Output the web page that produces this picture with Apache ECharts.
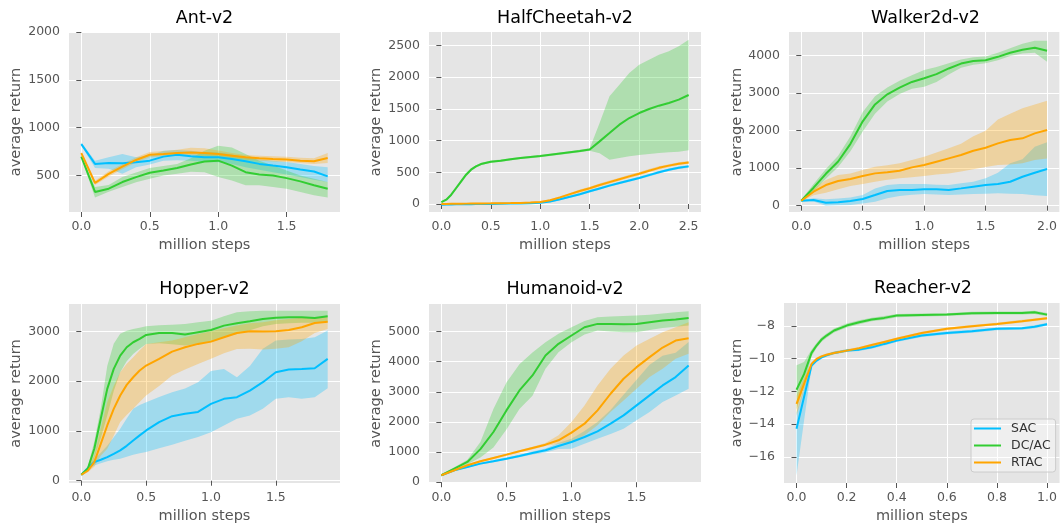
<!DOCTYPE html>
<html>
<head>
<meta charset="UTF-8">
<title>average return</title>
<style>html,body{margin:0;background:#fff;}#charts{width:1060px;height:525px;}</style>
</head>
<body>
<div id="charts"></div>
<script src="https://cdn.jsdelivr.net/npm/echarts/dist/echarts.min.js"></script>
<script>
var FONT = 'DejaVu Sans';
var SAC_C = '#00BFFF', DCAC_C = '#32CD32', RTAC_C = '#FFA500';

// Ant-v2
var antX = [0,0.1,0.2,0.3,0.4,0.5,0.6,0.7,0.8,0.9,1.0,1.1,1.2,1.3,1.4,1.5,1.6,1.7,1.8];
var antSac = [828,621,631,628,638,655,697,717,700,690,690,672,648,621,603,586,562,541,490];
var antSacLo = [812,579,569,517,586,614,655,660,655,640,638,620,586,560,534,510,483,455,431];
var antSacHi = [844,655,690,724,690,707,759,765,759,740,741,720,690,670,655,640,621,600,586];
var antDcac = [697,328,362,431,483,528,552,579,614,645,655,603,534,510,500,472,438,397,362];
var antDcacLo = [687,269,330,379,430,466,500,517,540,534,483,448,397,397,379,362,328,293,269];
var antDcacHi = [707,379,400,483,530,579,600,621,680,759,810,793,724,655,603,552,500,466,431];
var antRtac = [734,421,517,593,662,717,724,734,741,734,724,707,690,679,672,666,655,648,683];
var antRtacLo = [720,400,490,565,635,690,700,705,710,705,695,680,665,655,645,640,630,620,630];
var antRtacHi = [750,445,545,620,690,745,755,770,790,785,760,735,715,705,700,695,685,680,735];

// HalfCheetah-v2
var hcX = [0,0.05,0.1,0.15,0.2,0.25,0.3,0.35,0.4,0.5,0.6,0.7,0.8,0.9,1.0,1.1,1.2,1.3,1.4,1.5,1.6,1.7,1.8,1.9,2.0,2.1,2.2,2.3,2.4,2.5];
var hcSac = [-10,-8,-6,-5,-4,-3,-2,-1,0,2,4,6,8,12,20,40,75,115,155,200,245,290,330,370,410,455,500,540,570,593];
var hcSacLo = [-22,-19,-16,-14,-12,-11,-10,-9,-8,-6,-4,-2,0,3,10,28,60,98,137,180,225,270,310,350,390,435,480,520,550,573];
var hcSacHi = [2,3,4,4,4,5,6,7,8,10,12,14,16,21,30,52,90,132,173,220,265,310,350,390,430,475,520,560,590,613];
var hcDcac = [30,68,147,252,357,462,541,593,630,667,683,704,725,740,755,775,795,815,835,860,987,1118,1250,1355,1434,1497,1550,1592,1645,1718];
var hcDcacLo = [15,50,125,225,330,435,520,575,612,650,666,687,708,723,738,757,777,797,815,840,800,699,725,751,772,788,804,814,825,846];
var hcDcacHi = [45,86,170,280,385,490,562,611,648,684,700,721,742,757,772,793,813,833,855,880,1276,1697,1881,2064,2196,2275,2353,2406,2485,2590];
var hcRtac = [0,2,3,4,5,6,7,8,9,10,12,14,17,22,30,60,105,155,205,248,300,345,390,435,478,525,570,605,635,656];
var hcRtacLo = [-10,-8,-7,-6,-5,-4,-3,-2,-1,0,2,4,7,12,18,45,88,135,183,225,276,320,365,410,453,500,545,582,613,636];
var hcRtacHi = [10,12,13,14,15,16,17,18,19,20,22,24,27,32,42,75,122,175,227,271,324,370,415,460,503,550,595,628,657,676];

// Walker2d-v2
var wkX = [0,0.1,0.2,0.3,0.4,0.5,0.6,0.7,0.8,0.9,1.0,1.1,1.2,1.3,1.4,1.5,1.6,1.7,1.8,1.9,2.0];
var wkSac = [133,151,80,89,124,178,284,391,418,418,436,436,418,462,507,551,578,640,773,880,978];
var wkSacLo = [110,110,0,10,18,60,107,200,258,290,311,300,284,300,311,320,329,320,311,280,258];
var wkSacHi = [160,200,169,190,222,284,462,551,578,578,578,560,551,600,640,729,880,1129,1236,1573,1689];
var wkDcac = [133,480,850,1180,1650,2250,2700,2970,3150,3300,3400,3510,3660,3790,3860,3880,3970,4080,4160,4210,4130];
var wkDcacLo = [110,380,720,1030,1450,1980,2450,2780,2980,3120,3170,3300,3500,3680,3760,3800,3880,3990,4060,4080,3840];
var wkDcacHi = [160,580,980,1330,1850,2500,2920,3150,3330,3480,3620,3700,3800,3900,3960,3980,4080,4200,4320,4400,4400];
var wkRtac = [133,373,551,658,711,791,862,889,933,1022,1084,1173,1262,1351,1467,1547,1662,1751,1796,1929,2018];
var wkRtacLo = [110,280,347,440,524,580,640,690,729,760,791,830,862,910,969,1030,1084,1100,1129,1218,1262];
var wkRtacHi = [160,450,684,818,862,950,1040,1080,1129,1220,1307,1420,1529,1650,1850,2000,2300,2450,2600,2700,2800];

// Hopper-v2
var hpX = [0,0.05,0.1,0.15,0.2,0.25,0.3,0.35,0.4,0.45,0.5,0.6,0.7,0.8,0.9,1.0,1.1,1.2,1.3,1.4,1.5,1.6,1.7,1.8,1.9];
var hpSac = [120,250,374,420,474,540,608,700,808,910,1009,1176,1296,1343,1380,1543,1643,1677,1810,1977,2178,2231,2244,2258,2445];
var hpSacLo = [100,230,307,350,390,420,441,480,521,550,574,650,721,800,875,975,1109,1242,1309,1443,1643,1677,1643,1677,1857];
var hpSacHi = [140,270,441,560,700,870,1042,1250,1443,1520,1576,1680,1777,1850,1977,2200,2244,2077,2300,2650,2812,2832,2846,2879,3013];
var hpDcac = [120,240,641,1242,1844,2244,2512,2679,2779,2846,2926,2966,2966,2933,2980,3026,3113,3160,3200,3247,3273,3280,3280,3267,3300];
var hpDcacLo = [100,200,450,850,1309,1800,2178,2400,2545,2650,2745,2760,2740,2712,2750,2779,2880,2946,3020,3100,3146,3160,3170,3170,3180];
var hpDcacHi = [140,290,780,1450,2300,2750,2950,3010,3046,3070,3100,3120,3130,3146,3180,3213,3300,3380,3400,3410,3414,3414,3414,3414,3414];
var hpRtac = [120,200,374,741,1109,1443,1710,1924,2077,2211,2311,2445,2592,2679,2746,2792,2879,2966,3000,2993,3000,3026,3080,3166,3193];
var hpRtacLo = [100,170,280,500,641,900,1176,1320,1443,1580,1710,1900,2111,2230,2345,2450,2560,2645,2650,2632,2650,2679,2800,2966,3046];
var hpRtacHi = [140,240,500,1050,1576,1900,2178,2350,2478,2620,2745,2780,2812,2880,2946,3000,3060,3113,3160,3180,3220,3247,3270,3280,3280];

// Humanoid-v2
var hmX = [0,0.1,0.2,0.3,0.4,0.5,0.6,0.7,0.8,0.9,1.0,1.1,1.2,1.3,1.4,1.5,1.6,1.7,1.8,1.9];
var hmSac = [232,397,508,618,695,783,872,971,1060,1203,1336,1501,1689,1943,2219,2550,2881,3212,3488,3874];
var hmSacLo = [210,370,480,590,665,750,830,920,990,1100,1115,1280,1446,1600,1777,2053,2329,2660,2881,3101];
var hmSacHi = [260,420,540,650,730,820,910,1020,1120,1300,1446,1700,1998,2400,2900,3400,3900,4200,4300,4650];
var hmDcac = [232,453,673,1100,1667,2384,3046,3543,4205,4592,4868,5143,5254,5254,5243,5254,5309,5364,5397,5452];
var hmDcacLo = [200,400,600,820,1150,1750,2428,2870,3764,4316,4646,4900,5033,5000,4980,4978,5050,5120,5160,5199];
var hmDcacHi = [260,500,750,1336,2428,3311,3918,4304,4646,4923,5143,5350,5474,5500,5520,5530,5560,5600,5640,5673];
var hmRtac = [232,397,563,695,806,916,1027,1137,1247,1391,1645,1943,2384,2936,3433,3819,4150,4470,4702,4779];
var hmRtacLo = [210,370,530,660,770,880,990,1090,1200,1280,1336,1556,1887,2329,2715,3101,3488,3764,4095,4261];
var hmRtacHi = [260,420,600,730,840,950,1060,1180,1300,1556,1998,2550,3212,3764,4205,4536,4757,4978,5143,5309];

// Reacher-v2
var rcX = [0,0.03,0.06,0.08,0.1,0.12,0.15,0.2,0.25,0.3,0.35,0.4,0.5,0.6,0.7,0.8,0.9,0.95,1.0];
var rcSac = [-14.29,-12.35,-10.42,-10.12,-9.92,-9.8,-9.65,-9.51,-9.45,-9.31,-9.1,-8.9,-8.59,-8.43,-8.33,-8.18,-8.14,-8.05,-7.9];
var rcSacLo = [-17.14,-13.8,-10.52,-10.2,-10.0,-9.88,-9.73,-9.6,-9.54,-9.4,-9.19,-8.99,-8.68,-8.52,-8.42,-8.27,-8.23,-8.14,-7.99];
var rcSacHi = [-13.27,-11.8,-10.32,-10.04,-9.84,-9.72,-9.57,-9.42,-9.36,-9.22,-9.01,-8.81,-8.5,-8.34,-8.24,-8.09,-8.05,-7.96,-7.81];
var rcDcac = [-11.9,-10.95,-9.65,-9.2,-8.83,-8.59,-8.28,-7.98,-7.78,-7.61,-7.51,-7.37,-7.33,-7.31,-7.23,-7.21,-7.21,-7.17,-7.31];
var rcDcacLo = [-13.1,-11.7,-9.85,-9.35,-8.97,-8.72,-8.4,-8.1,-7.9,-7.72,-7.62,-7.47,-7.42,-7.4,-7.32,-7.3,-7.3,-7.27,-7.41];
var rcDcacHi = [-10.4,-10.2,-9.45,-9.05,-8.69,-8.46,-8.16,-7.86,-7.66,-7.5,-7.4,-7.27,-7.24,-7.22,-7.14,-7.12,-7.12,-7.08,-7.21];
var rcRtac = [-12.76,-11.54,-10.32,-10.02,-9.86,-9.76,-9.65,-9.51,-9.37,-9.17,-8.98,-8.79,-8.43,-8.18,-8.02,-7.88,-7.71,-7.62,-7.53];
var rcRtacLo = [-13.47,-11.95,-10.42,-10.1,-9.94,-9.84,-9.73,-9.59,-9.45,-9.25,-9.06,-8.87,-8.51,-8.26,-8.1,-7.96,-7.79,-7.7,-7.61];
var rcRtacHi = [-12.25,-11.2,-10.22,-9.94,-9.78,-9.68,-9.57,-9.43,-9.29,-9.09,-8.9,-8.71,-8.35,-8.1,-7.94,-7.8,-7.63,-7.54,-7.45];

var panels = [
	{title: 'Ant-v2', x: antX, sac: [antSac, antSacLo, antSacHi], dcac: [antDcac, antDcacLo, antDcacHi], rtac: [antRtac, antRtacLo, antRtacHi],
	 rect: [69, 32, 271, 180], titleTop: 9, xr: [-0.09, 1.89], yr: [118, 2000], xt: [0, 0.5, 1, 1.5], yt: [500, 1000, 1500, 2000], yGap: 45},
	{title: 'HalfCheetah-v2', x: hcX, sac: [hcSac, hcSacLo, hcSacHi], dcac: [hcDcac, hcDcacLo, hcDcacHi], rtac: [hcRtac, hcRtacLo, hcRtacHi],
	 rect: [429, 32, 272, 180], titleTop: 9, xr: [-0.125, 2.625], yr: [-126, 2711], xt: [0, 0.5, 1, 1.5, 2, 2.5], yt: [0, 500, 1000, 1500, 2000, 2500], yGap: 45},
	{title: 'Walker2d-v2', x: wkX, sac: [wkSac, wkSacLo, wkSacHi], dcac: [wkDcac, wkDcacLo, wkDcacHi], rtac: [wkRtac, wkRtacLo, wkRtacHi],
	 rect: [789, 32, 273, 180], titleTop: 9, xr: [-0.1, 2.1], yr: [-168, 4632], xt: [0, 0.5, 1, 1.5, 2], yt: [0, 1000, 2000, 3000, 4000], yGap: 44},
	{title: 'Hopper-v2', x: hpX, sac: [hpSac, hpSacLo, hpSacHi], dcac: [hpDcac, hpDcacLo, hpDcacHi], rtac: [hpRtac, hpRtacLo, hpRtacHi],
	 rect: [69, 304, 271, 179], titleTop: 280, xr: [-0.095, 1.995], yr: [-46, 3547], xt: [0, 0.5, 1, 1.5], yt: [0, 1000, 2000, 3000], yGap: 45},
	{title: 'Humanoid-v2', x: hmX, sac: [hmSac, hmSacLo, hmSacHi], dcac: [hmDcac, hmDcacLo, hmDcacHi], rtac: [hmRtac, hmRtacLo, hmRtacHi],
	 rect: [429, 304, 272, 179], titleTop: 280, xr: [-0.095, 1.995], yr: [-25, 5914], xt: [0, 0.5, 1, 1.5], yt: [0, 1000, 2000, 3000, 4000, 5000], yGap: 45},
	{title: 'Reacher-v2', x: rcX, sac: [rcSac, rcSacLo, rcSacHi], dcac: [rcDcac, rcDcacLo, rcDcacHi], rtac: [rcRtac, rcRtacLo, rcRtacHi],
	 rect: [784, 303, 278, 180], titleTop: 279, xr: [-0.05, 1.05], yr: [-17.6, -6.6], xt: [0, 0.2, 0.4, 0.6, 0.8, 1], yt: [-16, -14, -12, -10, -8], yGap: 39}
];

// shaded band as one polygon: upper edge forward, lower edge back
function bandItem(xs, lo, hi, fill) {
	return function (params, api) {
		if (params.dataIndex !== 0) return null;
		var pts = [];
		for (var k = 0; k < xs.length; k++) pts.push(api.coord([xs[k], hi[k]]));
		for (var k = xs.length - 1; k >= 0; k--) pts.push(api.coord([xs[k], lo[k]]));
		return {type: 'polygon', shape: {points: pts}, style: {fill: fill}};
	};
}
function pairs(xs, ys) {
	return xs.map(function (x, k) { return [x, ys[k]]; });
}

var option = {
	animation: false,
	textStyle: {fontFamily: FONT},
	title: [], grid: [], xAxis: [], yAxis: [], series: [],
	legend: {
		data: ['SAC', 'DC/AC', 'RTAC'],
		orient: 'vertical', left: 971, top: 419,
		icon: 'rect', itemWidth: 27, itemHeight: 2, itemGap: 4,
		textStyle: {fontFamily: FONT, fontSize: 12.5, color: '#333', padding: [0, 0, 0, 5]},
		backgroundColor: 'rgba(255,255,255,0.4)', borderColor: '#cccccc', borderWidth: 1, borderRadius: 3,
		padding: [3, 5, 3, 3]
	}
};

var lines = [['SAC', 'sac', SAC_C, 'rgba(0,191,255,0.3)'], ['DC/AC', 'dcac', DCAC_C, 'rgba(50,205,50,0.3)'], ['RTAC', 'rtac', RTAC_C, 'rgba(255,165,0,0.3)']];

panels.forEach(function (p, i) {
	option.grid.push({left: p.rect[0], top: p.rect[1], width: p.rect[2], height: p.rect[3], show: true, backgroundColor: '#E5E5E5', borderWidth: 0});
	option.title.push({text: p.title, left: p.rect[0] + p.rect[2] / 2, top: p.titleTop, textAlign: 'center', padding: 0,
		textStyle: {fontFamily: FONT, fontSize: 17.5, fontWeight: 'normal', color: '#000'}});
	option.xAxis.push({
		type: 'value', gridIndex: i, min: p.xr[0], max: p.xr[1],
		axisLine: {show: false},
		axisTick: {show: true, length: 5, customValues: p.xt, lineStyle: {color: '#555'}},
		axisLabel: {customValues: p.xt, margin: 8, color: '#555', fontFamily: FONT, fontSize: 12.5,
			formatter: function (v) { return v.toFixed(1); }},
		splitLine: {show: true, lineStyle: {color: '#ffffff', width: 1}},
		name: 'million steps', nameLocation: 'middle', nameGap: 26,
		nameTextStyle: {color: '#555', fontFamily: FONT, fontSize: 14.5}
	});
	option.yAxis.push({
		type: 'value', gridIndex: i, min: p.yr[0], max: p.yr[1],
		axisLine: {show: false},
		axisTick: {show: true, length: 5, customValues: p.yt, lineStyle: {color: '#555'}},
		axisLabel: {customValues: p.yt, margin: 9, color: '#555', fontFamily: FONT, fontSize: 12.5,
			formatter: function (v) { return String(v).replace('-', '\u2212'); }},
		splitLine: {show: true, lineStyle: {color: '#ffffff', width: 1}},
		name: 'average return', nameLocation: 'middle', nameGap: p.yGap,
		nameTextStyle: {color: '#555', fontFamily: FONT, fontSize: 14.5}
	});
	lines.forEach(function (l) {
		var d = p[l[1]];
		option.series.push({
			name: l[0] + ' band', type: 'custom', xAxisIndex: i, yAxisIndex: i, silent: true, z: 2,
			data: p.x.map(function (x, k) { return [x, d[1][k], d[2][k]]; }),
			encode: {x: 0, y: [1, 2]},
			renderItem: bandItem(p.x, d[1], d[2], l[3])
		});
	});
	lines.forEach(function (l) {
		var d = p[l[1]];
		option.series.push({
			name: l[0], type: 'line', xAxisIndex: i, yAxisIndex: i, silent: true, z: 3,
			data: pairs(p.x, d[0]), showSymbol: false, symbol: 'none',
			lineStyle: {color: l[2], width: 2}, itemStyle: {color: l[2]}
		});
	});
});

var mycharts = echarts.init(document.getElementById('charts'));
mycharts.setOption(option);
</script>
</body>
</html>
